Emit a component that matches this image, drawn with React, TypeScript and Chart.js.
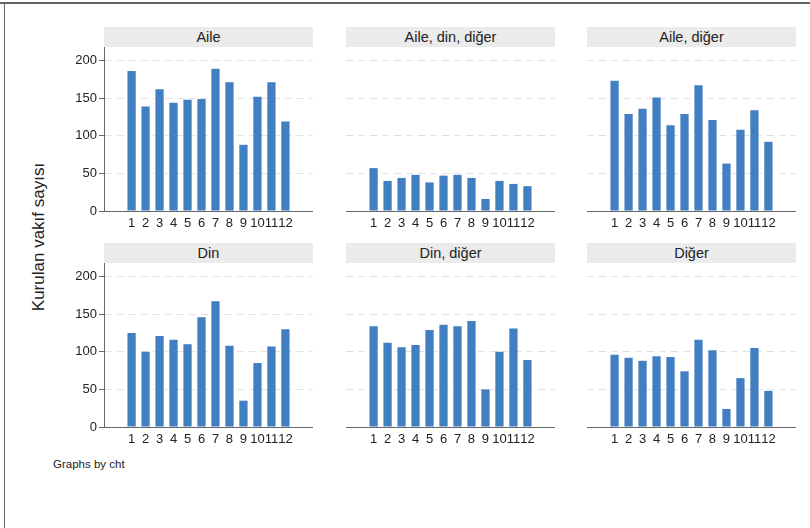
import React, { useEffect, useRef } from 'react';
import { Chart, registerables } from 'chart.js';

Chart.register(...registerables);

// ---- data ----
const months = [1, 2, 3, 4, 5, 6, 7, 8, 9, 10, 11, 12];
const monthLabels = ['1', '2', '3', '4', '5', '6', '7', '8', '9', '10', '11', '12'];
const yTicks = [0, 50, 100, 150, 200];
const panelTitles = ['Aile', 'Aile, din, diğer', 'Aile, diğer', 'Din', 'Din, diğer', 'Diğer'];
const aile = [186, 139, 162, 144, 148, 149, 189, 171, 88, 152, 171, 119];
const aileDinDiger = [57, 40, 44, 48, 38, 47, 48, 44, 16, 40, 36, 33];
const aileDiger = [173, 129, 136, 151, 114, 129, 167, 121, 63, 108, 134, 92];
const din = [125, 100, 121, 116, 110, 146, 167, 108, 35, 85, 107, 130];
const dinDiger = [134, 112, 106, 109, 129, 136, 134, 141, 50, 100, 131, 89];
const diger = [96, 92, 88, 94, 93, 74, 116, 102, 24, 65, 105, 48];
const yTitle = 'Kurulan vakıf sayısı';
const note = 'Graphs by cht';

const panelValues = [aile, aileDinDiger, aileDiger, din, dinDiger, diger];

// ---- layout ----
const FONT = '"Liberation Sans", Arial, Helvetica, sans-serif';
const colLefts = [104, 346, 587];
const rowTops = [47, 263];
const PLOT_W = 209;
const PLOT_H = 164;
const TOP_PAD = 10;
const X_AXIS_H = 24;
const Y_AXIS_W = 44;
const BAR_COLOR = '#427ec2';
const AXIS_COLOR = '#666666';
const GRID_COLOR = '#e2e2e2';
const TEXT_COLOR = '#222222';

type PanelProps = { title: string; values: number[]; showY: boolean; left: number; top: number };

function Panel({ title, values, showY, left, top }: PanelProps) {
  const ref = useRef<HTMLCanvasElement | null>(null);
  const yw = showY ? Y_AXIS_W : 0;
  const cw = yw + PLOT_W;
  const ch = TOP_PAD + PLOT_H + X_AXIS_H;

  useEffect(() => {
    if (!ref.current) return;
    const chart = new Chart(ref.current, {
      type: 'bar',
      data: {
        datasets: [
          {
            data: months.map((m, i) => ({ x: m, y: values[i] })),
            backgroundColor: BAR_COLOR,
            borderWidth: 0,
            barPercentage: 0.59,
            categoryPercentage: 1,
          },
        ],
      },
      options: {
        responsive: false,
        maintainAspectRatio: false,
        animation: false,
        layout: { padding: { top: TOP_PAD, left: 0, right: 0, bottom: 0 } },
        plugins: { legend: { display: false }, tooltip: { enabled: false }, title: { display: false } },
        scales: {
          x: {
            type: 'linear',
            min: -0.35,
            max: 13.35,
            afterBuildTicks: (s: any) => {
              s.ticks = months.map((v) => ({ value: v }));
            },
            afterFit: (s: any) => {
              s.height = X_AXIS_H;
            },
            ticks: {
              autoSkip: false,
              maxRotation: 0,
              minRotation: 0,
              padding: 5,
              color: TEXT_COLOR,
              font: { family: FONT, size: 13 },
              callback: (v: any) => {
                const idx = months.indexOf(Number(v));
                return idx >= 0 ? monthLabels[idx] : '';
              },
            },
            grid: { display: true, drawOnChartArea: false, drawTicks: false },
            border: { display: true, color: AXIS_COLOR, width: 1, z: 1 },
          },
          y: {
            type: 'linear',
            min: 0,
            max: 218,
            afterBuildTicks: (s: any) => {
              s.ticks = yTicks.map((v) => ({ value: v }));
            },
            afterFit: (s: any) => {
              s.width = yw;
            },
            ticks: {
              display: showY,
              padding: 2,
              color: TEXT_COLOR,
              font: { family: FONT, size: 13 },
              callback: (v: any) => String(v),
            },
            grid: {
              display: true,
              color: (ctx: any) => (ctx.tick && ctx.tick.value === 0 ? 'rgba(0,0,0,0)' : GRID_COLOR),
              lineWidth: 1,
              drawTicks: showY,
              tickLength: 5,
              tickColor: AXIS_COLOR,
              tickWidth: 1,
              tickBorderDash: [],
            },
            border: { display: showY, color: AXIS_COLOR, width: 1, dash: [7, 5], z: 1 },
          },
        },
      } as any,
    });
    return () => chart.destroy();
  }, [values, showY]);

  return (
    <>
      <div
        style={{
          position: 'absolute',
          left,
          top: top - 20,
          width: PLOT_W,
          height: 20,
          background: '#ebebeb',
          color: TEXT_COLOR,
          fontFamily: FONT,
          fontSize: 14.5,
          lineHeight: '20px',
          textAlign: 'center',
          whiteSpace: 'nowrap',
        }}
      >
        {title}
      </div>
      <canvas
        ref={ref}
        width={cw}
        height={ch}
        style={{ position: 'absolute', left: left - yw, top: top - TOP_PAD, width: cw, height: ch }}
      />
    </>
  );
}

export default function App() {
  return (
    <div
      style={{
        position: 'fixed',
        left: 0,
        top: 0,
        width: 810,
        height: 528,
        background: '#ffffff',
        overflow: 'hidden',
        fontFamily: FONT,
      }}
    >
      <div style={{ position: 'absolute', left: 0, top: 2, width: 810, height: 1.5, background: '#666' }} />
      <div style={{ position: 'absolute', left: 3.5, top: 2, width: 1.5, height: 526, background: '#666' }} />
      {panelTitles.map((t, i) => (
        <Panel
          key={t}
          title={t}
          values={panelValues[i]}
          showY={i % 3 === 0}
          left={colLefts[i % 3]}
          top={rowTops[Math.floor(i / 3)]}
        />
      ))}
      <div
        style={{
          position: 'absolute',
          left: 39 - 120,
          top: 237 - 12,
          width: 240,
          height: 24,
          lineHeight: '24px',
          textAlign: 'center',
          fontSize: 17,
          color: TEXT_COLOR,
          transform: 'rotate(-90deg)',
          whiteSpace: 'nowrap',
        }}
      >
        {yTitle}
      </div>
      <div
        style={{
          position: 'absolute',
          left: 53,
          top: 456,
          fontSize: 11.5,
          lineHeight: '16px',
          color: TEXT_COLOR,
          whiteSpace: 'nowrap',
        }}
      >
        {note}
      </div>
    </div>
  );
}
